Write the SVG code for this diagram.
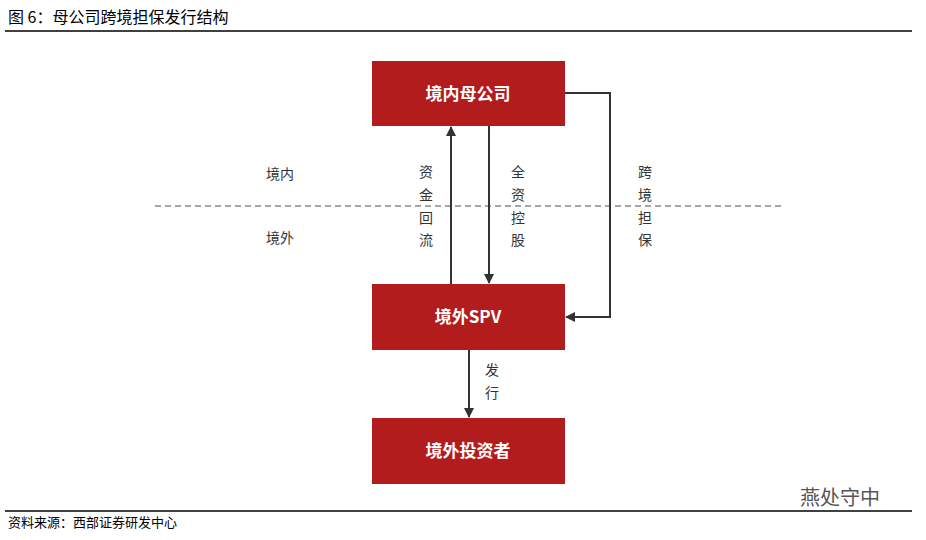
<svg xmlns="http://www.w3.org/2000/svg" width="926" height="540" viewBox="0 0 926 540">
<style>
text{font-family:"Noto Sans CJK SC","Liberation Sans",sans-serif;}
.box{fill:#b21c1c;}
.bt{fill:#fff;font-size:17px;font-weight:bold;text-anchor:middle;}
.lb{fill:#333;font-size:14px;text-anchor:middle;}
.ln{stroke:#333;stroke-width:2;fill:none;marker-end:url(#a);}
</style>
<defs><marker id="a" markerWidth="10" markerHeight="10" refX="9" refY="5" orient="auto" markerUnits="userSpaceOnUse"><path d="M0,0 L10,5 L0,10 Z" fill="#333"/></marker></defs>
<rect width="926" height="540" fill="#fff"/>
<text x="8" y="23" font-size="16" fill="#000">图 6：母公司跨境担保发行结构</text>
<line x1="5" y1="31" x2="912" y2="31" stroke="#000" stroke-width="1.5"/>
<line x1="155" y1="206" x2="782" y2="206" stroke="#888" stroke-width="1.5" stroke-dasharray="6,4"/>
<g id="n1"><rect class="box" x="372" y="61" width="193" height="65"/><text class="bt" x="468" y="100">境内母公司</text></g>
<g id="n2"><rect class="box" x="372" y="284" width="193" height="66"/><text class="bt" x="468" y="323">境外SPV</text></g>
<g id="n3"><rect class="box" x="372" y="418" width="193" height="66"/><text class="bt" x="468" y="457">境外投资者</text></g>
<g id="edges">
<path class="ln" d="M451,284 V127"/>
<path class="ln" d="M489,126 V283"/>
<path class="ln" d="M565,93 H610 V317 H566"/>
<path class="ln" d="M469,350 V417"/>
</g>
<g id="labels">
<text class="lb" x="280" y="179">境内</text>
<text class="lb" x="280" y="243">境外</text>
<text class="lb" x="426" y="177">资</text><text class="lb" x="426" y="200">金</text><text class="lb" x="426" y="223">回</text><text class="lb" x="426" y="245">流</text>
<text class="lb" x="518" y="177">全</text><text class="lb" x="518" y="200">资</text><text class="lb" x="518" y="223">控</text><text class="lb" x="518" y="245">股</text>
<text class="lb" x="645" y="177">跨</text><text class="lb" x="645" y="200">境</text><text class="lb" x="645" y="223">担</text><text class="lb" x="645" y="245">保</text>
<text class="lb" x="492" y="375">发</text><text class="lb" x="492" y="398">行</text>
</g>
<text x="800" y="505" font-size="20" fill="#555">燕处守中</text>
<line x1="5" y1="511" x2="912" y2="511" stroke="#000" stroke-width="1.5"/>
<text x="8" y="527" font-size="13" fill="#000">资料来源：西部证券研发中心</text>
</svg>
